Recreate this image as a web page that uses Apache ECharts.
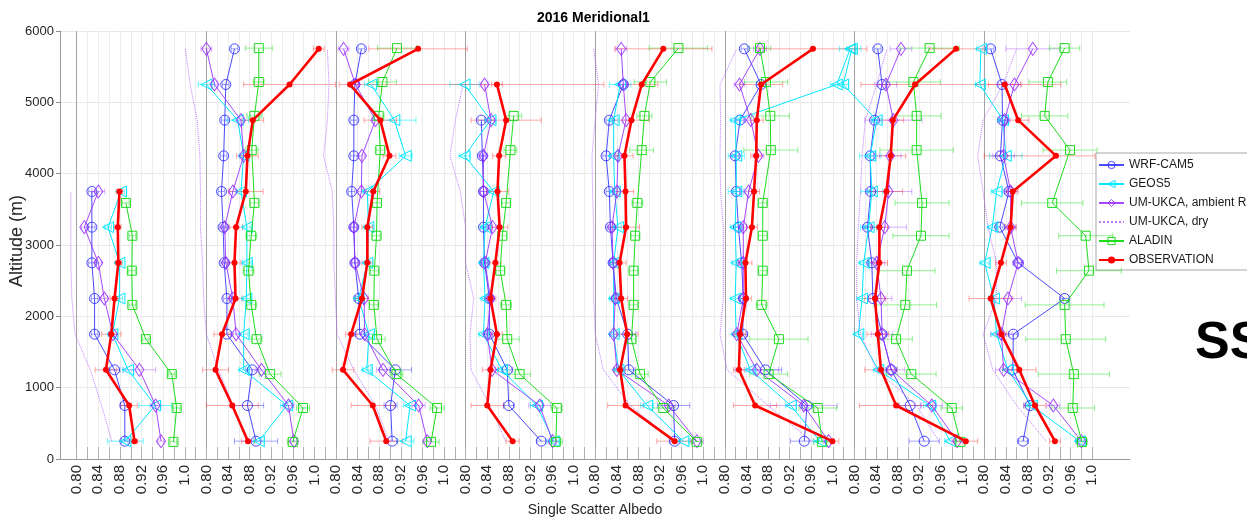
<!DOCTYPE html>
<html><head><meta charset="utf-8">
<script src="https://cdn.jsdelivr.net/npm/echarts@6/dist/echarts.min.js"></script>
<style>html,body{margin:0;padding:0;background:#fff}#c{width:1247px;height:518px}</style>
</head><body><div id="c"></div>
<script>
// ---------------- DATA ----------------
// altitude levels (m), low -> high
const levels = [250, 750, 1250, 1750, 2250, 2750, 3250, 3750, 4250, 4750, 5250, 5750];
const aladinLevels = [240, 715, 1190, 1680, 2160, 2640, 3130, 3590, 4330, 4810, 5285, 5760];
const panelShift = 0.24;            // each panel is offset by 0.24 on the shared albedo axis
const panelCount = 8;
const xTickLabels = ['0.80', '0.84', '0.88', '0.92', '0.96', '1.0'];
const yTicks = [0, 1000, 2000, 3000, 4000, 5000, 6000];

// Single scatter albedo, one row per panel, values per level (low -> high)
const wrfCam5 = [
  [0.889, 0.889, 0.870, 0.833, 0.833, 0.828, 0.828, 0.828, null, null, null, null],
  [0.892, 0.876, 0.885, 0.838, 0.838, 0.833, 0.831, 0.828, 0.832, 0.834, 0.836, 0.852],
  [0.904, 0.901, 0.910, 0.844, 0.842, 0.835, 0.833, 0.829, 0.833, 0.833, 0.835, 0.847],
  [0.940, 0.880, 0.877, 0.844, 0.844, 0.835, 0.833, 0.833, 0.831, 0.829, null, null],
  [0.947, 0.945, 0.862, 0.860, 0.839, 0.833, 0.828, 0.826, 0.820, 0.826, 0.852, null],
  [0.947, 0.952, 0.875, 0.833, 0.834, 0.831, 0.825, 0.821, 0.819, 0.828, 0.867, 0.836],
  [0.929, 0.903, 0.868, 0.851, 0.834, 0.832, 0.824, 0.830, 0.829, 0.837, 0.851, 0.843],
  [0.872, 0.885, 0.853, 0.854, 0.949, 0.863, 0.829, 0.846, 0.830, 0.834, 0.833, 0.812]
];
const geos5 = [
  [0.890, 0.945, 0.895, 0.866, 0.879, 0.879, 0.858, 0.882, null, null, null, null],
  [0.897, 0.949, 0.869, 0.869, 0.874, 0.875, 0.875, 0.864, 0.869, 0.858, 0.800, null],
  [0.929, 0.937, 0.857, 0.861, 0.842, 0.858, 0.860, 0.858, 0.929, 0.908, 0.865, null],
  [0.963, 0.932, 0.867, 0.833, 0.836, 0.833, 0.836, 0.852, 0.798, 0.846, 0.798, null],
  [0.963, 0.896, 0.843, 0.834, 0.834, 0.834, 0.842, 0.836, 0.834, 0.834, 0.846, null],
  [0.976, 0.922, 0.847, 0.821, 0.819, 0.821, 0.819, 0.821, 0.821, 0.819, 1.007, 1.032],
  [0.977, 0.940, 0.844, 0.807, 0.814, 0.817, 0.826, 0.832, 0.829, 0.841, 0.779, 0.795],
  [0.977, 0.888, 0.844, 0.823, 0.818, 0.801, 0.815, 0.823, 0.840, 0.835, 0.792, 0.794]
];
const umAmbient = [
  [0.956, 0.946, 0.916, 0.867, 0.851, 0.840, 0.814, 0.840, null, null, null, null],
  [0.962, 0.952, 0.902, 0.855, 0.849, 0.836, 0.834, 0.849, 0.869, 0.864, 0.815, 0.800],
  [0.969, 0.953, 0.887, 0.853, 0.852, 0.835, 0.833, 0.847, 0.848, 0.873, 0.836, 0.814],
  [0.961, 0.937, 0.849, 0.840, 0.846, 0.836, 0.850, 0.833, 0.833, 0.847, 0.835, null],
  [0.988, 0.936, 0.840, 0.834, 0.837, 0.833, 0.831, 0.840, 0.842, 0.857, 0.852, 0.848],
  [0.992, 0.946, 0.859, 0.822, 0.834, 0.834, 0.834, 0.844, 0.862, 0.848, 0.827, 0.865],
  [0.990, 0.943, 0.868, 0.851, 0.849, 0.841, 0.856, 0.863, 0.866, 0.872, 0.858, 0.886],
  [0.980, 0.928, 0.836, 0.832, 0.844, 0.863, 0.849, 0.849, 0.836, 0.838, 0.856, 0.890]
];
const umDry = [
  [0.865, 0.846, 0.825, 0.797, 0.791, 0.789, 0.789, 0.789, null, null, null, null],
  [0.875, 0.850, 0.822, 0.800, 0.795, 0.793, 0.789, 0.789, 0.788, 0.783, 0.770, 0.761],
  [0.898, 0.873, 0.833, 0.802, 0.799, 0.796, 0.796, 0.793, 0.777, 0.784, 0.787, 0.784],
  [0.874, 0.845, 0.810, 0.808, 0.815, 0.800, 0.800, 0.790, 0.771, 0.781, 0.795, null],
  [0.945, 0.865, 0.815, 0.800, 0.797, 0.797, 0.797, 0.795, 0.794, 0.800, 0.806, 0.797],
  [0.960, 0.880, 0.804, 0.791, 0.797, 0.797, 0.797, 0.792, 0.791, 0.792, 0.791, 0.822],
  [0.956, 0.915, 0.841, 0.811, 0.804, 0.804, 0.807, 0.811, 0.814, 0.820, 0.841, 0.860],
  [0.915, 0.860, 0.816, 0.798, 0.823, 0.823, 0.807, 0.798, 0.788, 0.798, 0.835, 0.860]
];
const aladin = [   // at aladinLevels
  [0.979, 0.985, 0.976, 0.928, 0.903, 0.902, 0.903, 0.891, null, null, null, null],
  [0.960, 0.979, 0.918, 0.893, 0.883, 0.878, 0.883, 0.889, 0.884, 0.889, 0.897, 0.897],
  [0.976, 0.987, 0.912, 0.876, 0.870, 0.871, 0.875, 0.876, 0.882, 0.879, 0.886, 0.913],
  [0.967, 0.969, 0.900, 0.877, 0.875, 0.864, 0.868, 0.875, 0.883, 0.889, null, null],
  [0.988, 0.926, 0.883, 0.867, 0.871, 0.871, 0.874, 0.878, 0.886, 0.891, 0.902, 0.954],
  [0.980, 0.972, 0.881, 0.900, 0.868, 0.870, 0.870, 0.870, 0.885, 0.884, 0.876, 0.865],
  [0.996, 0.980, 0.905, 0.877, 0.894, 0.897, 0.923, 0.925, 0.915, 0.915, 0.909, 0.939],
  [0.981, 0.964, 0.966, 0.951, 0.949, 0.994, 0.988, 0.926, 0.959, 0.912, 0.918, 0.949]
];
const observation = [
  [0.907, 0.897, 0.854, 0.864, 0.870, 0.877, 0.876, 0.879, null, null, null, null],
  [0.877, 0.848, 0.817, 0.829, 0.854, 0.852, 0.855, 0.873, 0.876, 0.886, 0.954, 1.008],
  [0.893, 0.868, 0.813, 0.828, 0.848, 0.858, 0.858, 0.869, 0.899, 0.882, 0.826, 0.952],
  [0.887, 0.840, 0.846, 0.858, 0.846, 0.855, 0.863, 0.859, 0.862, 0.875, 0.858, null],
  [0.947, 0.856, 0.846, 0.859, 0.848, 0.845, 0.857, 0.856, 0.854, 0.867, 0.886, 0.926],
  [0.999, 0.856, 0.826, 0.828, 0.839, 0.838, 0.850, 0.854, 0.858, 0.859, 0.867, 0.963],
  [1.006, 0.877, 0.849, 0.843, 0.838, 0.846, 0.846, 0.859, 0.867, 0.871, 0.912, 0.988],
  [0.931, 0.894, 0.865, 0.832, 0.812, 0.831, 0.849, 0.853, 0.933, 0.863, 0.838, null]
];

// error bar half widths (number = symmetric, [minus, plus] = asymmetric)
const wrfCam5Err = [
  [0.006, 0.008, 0.01, 0.006, 0.006, 0.006, 0.006, 0.006, 0, 0, 0, 0],
  [0.04, 0.03, 0.012, 0.008, 0.006, 0.006, 0.006, 0.006, 0.006, 0.006, 0.006, 0.006],
  [0.01, 0.012, 0.03, 0.008, 0.006, 0.006, 0.006, 0.006, 0.006, 0.006, 0.006, 0.006],
  [0.008, 0.01, 0.01, 0.006, 0.006, 0.006, 0.006, 0.006, 0.006, 0.006, 0, 0],
  [0.01, 0.03, 0.012, 0.015, 0.006, 0.006, 0.006, 0.006, 0.006, 0.006, 0.008, 0],
  [0.026, 0.01, 0.03, 0.008, 0.006, 0.006, 0.006, 0.006, 0.006, 0.006, 0.008, 0.006],
  [0.028, 0.02, 0.01, 0.008, 0.008, 0.006, 0.006, 0.006, 0.006, 0.006, 0.006, 0.006],
  [0.01, 0.012, 0.01, 0.008, 0.008, 0.006, 0.006, 0.006, 0.006, 0.006, 0.006, 0.006]
];
const geos5Err = [
  [0.033, 0.03, 0.01, 0.008, 0.006, 0.006, 0.006, 0.006, 0, 0, 0, 0],
  [0.01, 0.012, 0.008, 0.008, 0.008, 0.008, 0.008, 0.008, 0.008, 0.02, 0.015, 0],
  [0.015, 0.012, 0.008, 0.008, 0.008, 0.006, 0.008, 0.008, 0.012, 0.04, 0.012, 0],
  [0.012, 0.012, 0.008, 0.008, 0.006, 0.006, 0.006, 0.008, 0.01, 0.01, 0.027, 0],
  [0.012, 0.012, 0.008, 0.008, 0.008, 0.006, 0.006, 0.008, 0.008, 0.008, 0.02, 0],
  [0.012, 0.01, 0.008, 0.008, 0.008, 0.008, 0.008, 0.015, 0.015, 0.008, 0.012, 0.02],
  [0.01, 0.012, 0.008, 0.008, 0.01, 0.008, 0.015, 0.02, 0.02, 0.008, 0.01, 0.01],
  [0.008, 0.01, 0.01, 0.01, 0.01, 0.008, 0.008, 0.01, 0.03, 0.01, 0.008, 0.008]
];
const umAmbientErr = [
  [0.006, 0.01, 0.03, 0.008, 0.006, 0.006, 0.006, 0.012, 0, 0, 0, 0],
  [0.006, 0.01, 0.012, 0.006, 0.006, 0.006, 0.006, 0.006, 0.006, 0.006, 0.006, 0.01],
  [0.006, 0.012, 0.012, 0.006, 0.006, 0.006, 0.006, 0.006, 0.006, 0.006, 0.006, 0.01],
  [0.006, 0.02, 0.006, 0.006, 0.006, 0.006, 0.006, 0.006, 0.006, 0.006, 0.006, 0],
  [0.012, 0.012, 0.006, 0.006, 0.006, 0.006, 0.006, 0.006, 0.006, 0.006, 0.006, 0.01],
  [0.01, 0.062, 0.04, 0.006, 0.006, 0.006, 0.006, 0.01, 0.01, 0.01, 0.01, 0.012],
  [0.01, 0.02, 0.025, 0.02, 0.02, 0.015, 0.04, 0.043, 0.02, 0.053, 0.02, 0.02],
  [0.01, 0.012, 0.015, 0.02, 0.025, 0.01, 0.01, 0.012, 0.02, 0.01, 0.012, 0.05]
];
const aladinErr = [
  [0.006, 0.006, 0.006, 0.006, 0.006, 0.006, 0.006, 0.006, 0, 0, 0, 0],
  [0.01, 0.012, 0.02, 0.01, 0.01, 0.01, 0.01, 0.008, 0.012, 0.014, 0.01, 0.025],
  [0.015, 0.013, 0.012, 0.015, 0.008, 0.008, 0.008, 0.008, 0.008, 0.01, 0.026, 0.036],
  [0.012, 0.01, 0.02, 0.022, 0.01, 0.008, 0.008, 0.008, 0.012, 0.015, 0, 0],
  [0.01, 0.02, 0.015, 0.008, 0.008, 0.008, 0.008, 0.01, 0.022, 0.014, 0.03, 0.054],
  [0.015, 0.035, 0.035, 0.054, 0.01, 0.008, 0.008, 0.008, 0.05, 0.035, 0.04, 0.02],
  [0.01, 0.02, 0.046, 0.03, 0.058, 0.052, 0.052, 0.05, 0.068, 0.045, 0.05, 0.055],
  [0.01, 0.04, 0.066, 0.074, 0.073, 0.06, 0.05, 0.057, 0.05, 0.043, 0.035, 0.028]
];
const observationErr = [
  [0.006, 0.015, 0.02, 0.018, 0.008, 0.006, 0.006, 0.006, 0, 0, 0, 0],
  [0.012, 0.048, 0.024, 0.015, 0.012, 0.012, 0.012, 0.032, 0.02, 0.02, 0.085, 0.01],
  [0.03, 0.04, 0.02, 0.01, 0.012, 0.01, 0.01, 0.012, 0.012, 0.03, [0.02, 0.47], 0.091],
  [0.012, 0.03, 0.015, 0.01, 0.01, 0.01, 0.015, 0.02, 0.012, 0.065, 0.01, 0],
  [0.033, 0.033, 0.01, 0.02, 0.012, 0.012, 0.025, 0.015, 0.016, 0.033, 0.03, 0.09],
  [0.012, 0.04, 0.01, 0.01, 0.01, 0.012, 0.01, 0.01, 0.01, 0.012, 0.04, 0.1],
  [0.022, 0.068, 0.03, 0.02, 0.02, 0.015, 0.015, 0.03, 0.028, 0.02, [0.1, 0.27], 0.05],
  [0.01, 0.02, 0.031, 0.01, 0.04, 0.01, 0.01, 0.01, [0.133, 0.072], 0.02, 0.03, 0]
];

// ---------------- STYLE ----------------
const FONT = '"Liberation Sans", Arial, Helvetica, sans-serif';
const seriesDefs = [
  { name: 'WRF-CAM5', vals: wrfCam5, err: wrfCam5Err, lv: levels, line: 'rgba(30,30,255,0.8)', errc: 'rgba(50,50,255,0.45)', symbol: 'circle', size: 10, rot: 0, hollow: true, width: 1 },
  { name: 'GEOS5', vals: geos5, err: geos5Err, lv: levels, line: 'rgba(0,232,255,1)', errc: 'rgba(0,235,255,0.55)', symbol: 'triangle', size: 11, rot: 90, hollow: true, width: 1 },
  { name: 'UM-UKCA, ambient RH', vals: umAmbient, err: umAmbientErr, lv: levels, line: 'rgba(150,40,255,0.85)', errc: 'rgba(160,60,255,0.4)', symbol: 'diamond', size: [9, 13], rot: 0, hollow: true, width: 1 },
  { name: 'UM-UKCA, dry', vals: umDry, err: null, lv: levels, line: 'rgba(175,90,255,0.8)', symbol: 'none', dotted: true, width: 1 },
  { name: 'ALADIN', vals: aladin, err: aladinErr, lv: aladinLevels, line: 'rgba(30,220,30,1)', errc: 'rgba(40,225,40,0.5)', symbol: 'rect', size: 9, rot: 0, hollow: true, width: 1 },
  { name: 'OBSERVATION', vals: observation, err: observationErr, lv: levels, line: '#ff0000', errc: 'rgba(255,40,40,0.4)', symbol: 'circle', size: 6, rot: 0, hollow: false, width: 2.6 }
];

// ---------------- BUILD ----------------
const xMin = 0.769, xMax = 2.75;
const minorTicks = [], labelTicks = [], panelStarts = [];
for (let k = 0; k < panelCount; k++) {
  panelStarts.push(+(0.80 + panelShift * k).toFixed(4));
  const nMinor = k === panelCount - 1 ? 11 : 12;
  for (let j = 0; j < nMinor; j++) minorTicks.push(+(0.80 + panelShift * k + 0.02 * j).toFixed(4));
  for (let j = 0; j < xTickLabels.length; j++) labelTicks.push(+(0.80 + panelShift * k + 0.04 * j).toFixed(4));
}
function tickLabel(v) {
  const k = Math.floor((v - 0.80 + 1e-6) / panelShift);
  const local = v - panelShift * k;
  const j = Math.round((local - 0.80) / 0.04);
  return xTickLabels[j] || '';
}

function errRenderer(color) {
  return function (params, api) {
    const y = api.value(1);
    const p1 = api.coord([api.value(2), y]);
    const p2 = api.coord([api.value(3), y]);
    const c = 3;
    const st = { stroke: color, lineWidth: 1 };
    return {
      type: 'group', children: [
        { type: 'line', shape: { x1: p1[0], y1: p1[1], x2: p2[0], y2: p2[1] }, style: st },
        { type: 'line', shape: { x1: p1[0], y1: p1[1] - c, x2: p1[0], y2: p1[1] + c }, style: st },
        { type: 'line', shape: { x1: p2[0], y1: p2[1] - c, x2: p2[0], y2: p2[1] + c }, style: st }
      ]
    };
  };
}

const series = [];
seriesDefs.forEach((d, si) => {
  for (let k = 0; k < panelCount; k++) {
    const pts = [], errs = [];
    d.vals[k].forEach((v, i) => {
      if (v === null || v === undefined) return;
      const xc = v + panelShift * k;
      pts.push([xc, d.lv[i]]);
      if (d.err) {
        const e = d.err[k][i];
        const m = Array.isArray(e) ? e[0] : e, p = Array.isArray(e) ? e[1] : e;
        if (m > 0 || p > 0) errs.push([xc, d.lv[i], xc - m, xc + p]);
      }
    });
    if (d.err && errs.length) {
      series.push({
        type: 'custom', name: d.name + ' err', data: errs, renderItem: errRenderer(d.errc),
        encode: { x: 0, y: 1 }, silent: true, z: 2 + si, xAxisIndex: 0, yAxisIndex: 0
      });
    }
    series.push({
      type: 'line', name: d.name, data: pts, xAxisIndex: 0, yAxisIndex: 0,
      symbol: d.symbol, symbolSize: d.size || 0, symbolRotate: d.rot || 0, showSymbol: d.symbol !== 'none',
      lineStyle: { color: d.line, width: d.width, type: d.dotted ? 'dotted' : 'solid' },
      itemStyle: d.hollow ? { color: 'rgba(255,255,255,0)', borderColor: d.line, borderWidth: 1 } : { color: d.line, borderColor: d.line, borderWidth: 0 },
      emphasis: { disabled: true }, silent: true, z: 10 + si, animation: false
    });
  }
});

const legendData = seriesDefs.map(d => {
  if (d.symbol === 'none') return { name: d.name, itemStyle: { opacity: 0 } };
  if (d.hollow) return { name: d.name, itemStyle: { color: 'rgba(255,255,255,0)', borderColor: d.line, borderWidth: 1 } };
  return { name: d.name, itemStyle: { color: d.line, borderWidth: 0 } };
});

const chart = echarts.init(document.getElementById('c'), null, { renderer: 'canvas' });
chart.setOption({
  animation: false,
  backgroundColor: '#ffffff',
  textStyle: { fontFamily: FONT },
  title: {
    text: '2016 Meridional1', left: 537, top: 11, padding: 0,
    textStyle: { fontSize: 14, fontWeight: 'bold', color: '#000', fontFamily: FONT }
  },
  grid: { left: 60, top: 31, width: 1070, height: 428, containLabel: false },
  xAxis: [
    {
      type: 'value', min: xMin, max: xMax, position: 'bottom',
      axisLine: { show: true, lineStyle: { color: '#9a9a9a', width: 1 } },
      axisTick: { show: true, inside: true, length: 12, customValues: minorTicks, lineStyle: { color: '#b0b0b0' } },
      axisLabel: {
        show: true, customValues: labelTicks, rotate: 90, margin: 6, fontSize: 15, color: '#262626', fontFamily: FONT,
        formatter: tickLabel
      },
      splitLine: { show: true, lineStyle: { color: '#ececec', width: 1 } }
    },
    {
      type: 'value', min: xMin, max: xMax, position: 'top',
      axisLine: { show: false }, axisLabel: { show: false },
      axisTick: { show: false, customValues: panelStarts },
      splitLine: { show: true, lineStyle: { color: '#a3a3a3', width: 1 } }
    }
  ],
  yAxis: {
    type: 'value', min: 0, max: 6000, interval: 1000,
    axisLine: { show: true, lineStyle: { color: '#9a9a9a' } },
    axisTick: { show: true, inside: false, length: 4, lineStyle: { color: '#8a8a8a' } },
    axisLabel: { fontSize: 13, color: '#262626', margin: 6, fontFamily: FONT, formatter: v => String(v) },
    splitLine: { show: true, lineStyle: { color: '#e8e8e8' } }
  },
  legend: {
    data: legendData,
    orient: 'vertical', left: 1096, top: 153,
    padding: [6, 4, 4, 2], itemGap: 7, itemWidth: 25, itemHeight: 9,
    backgroundColor: '#ffffff', borderColor: '#a8a8a8', borderWidth: 1, borderRadius: 0,
    textStyle: { fontSize: 12, color: '#1a1a1a', fontFamily: FONT },
    selectedMode: false
  },
  graphic: [
    { type: 'text', x: 17.5, y: 241, rotation: Math.PI / 2, silent: true,
      style: { text: 'Altitude (m)', fontSize: 18, fontFamily: FONT, fill: '#262626', align: 'center', verticalAlign: 'middle' } },
    { type: 'text', x: 595, y: 510, silent: true,
      style: { text: 'Single Scatter Albedo', fontSize: 14, fontFamily: FONT, fill: '#262626', align: 'center', verticalAlign: 'middle' } },
    { type: 'text', x: 1195, y: 344, silent: true,
      style: { text: 'SS', fontSize: 52, fontWeight: 'bold', fontFamily: FONT, fill: '#000', align: 'left', verticalAlign: 'middle' } }
  ],
  series: series
});
</script></body></html>
